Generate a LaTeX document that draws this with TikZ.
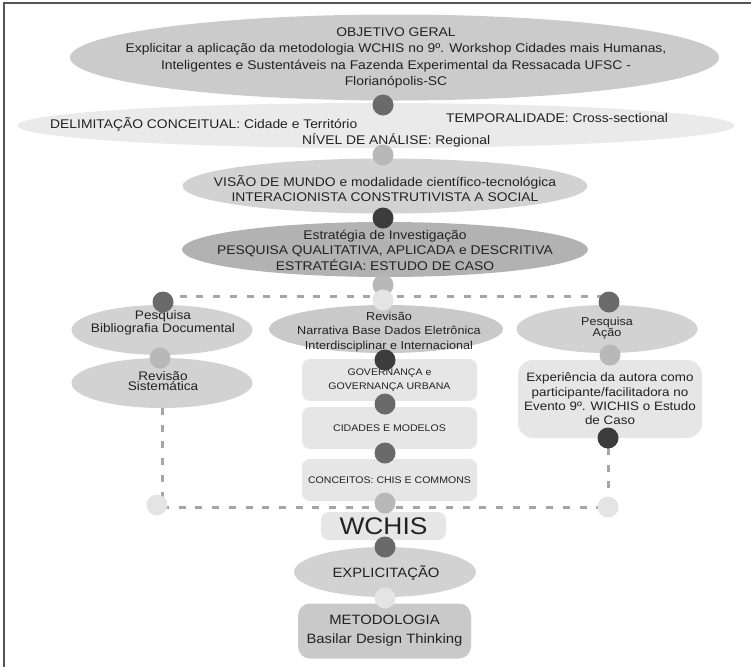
\documentclass[tikz,border=0pt]{standalone}
\usepackage{fontspec}
\setmainfont[FakeStretch=1.1]{Liberation Sans}
\usetikzlibrary{shapes.geometric}
\definecolor{dotdark}{HTML}{3C3C3C}
\definecolor{dotmid}{HTML}{6A6A6A}
\definecolor{dotgray}{HTML}{B8B8B8}
\definecolor{dotlight}{HTML}{E4E4E4}
\definecolor{shadeA}{HTML}{CBCBCB}
\definecolor{shadeB}{HTML}{EAEAEA}
\definecolor{shadeC}{HTML}{D2D2D2}
\definecolor{shadeD}{HTML}{B2B2B2}
\definecolor{shadeE}{HTML}{E6E6E6}
\definecolor{shadeF}{HTML}{C9C9C9}
\definecolor{dashgray}{HTML}{A6A6A6}
\definecolor{framegray}{HTML}{555555}
\definecolor{ink}{HTML}{222222}

\begin{document}
\begin{tikzpicture}[x=1pt, y=-1pt,
	blob/.style={ellipse, inner sep=0pt},
	card/.style={rectangle, rounded corners=8pt, inner sep=0pt, align=center, text=ink},
	dot/.style={circle, minimum size=21pt, inner sep=0pt},
	lbl/.style={align=center, inner sep=0pt, text=ink},
	link/.style={draw=dashgray, line width=3pt, dash pattern=on 7pt off 9.7pt}]
	\useasboundingbox (0,0) rectangle (751,667);
	\draw[framegray, line width=1.5pt] (4,667) -- (4,3) -- (751,3);

	\coordinate (cTL) at (163,296);
	\coordinate (cTR) at (609,296);
	\coordinate (cBL) at (162,507);
	\coordinate (cBR) at (608,507);
	\draw[link] (cTL) -- (cTR);
	\draw[link] (cBL) -- (cBR);
	\draw[link] (162,408) -- (cBL);
	\draw[link] (608,448) -- (cBR);

	\node[blob, fill=shadeA, minimum width=649pt, minimum height=86pt] (obj) at (394.5,57.5) {};
	\node[lbl, font=\fontsize{12.6}{16.3}\selectfont] (objt) at (396,58) {OBJETIVO GERAL\\Explicitar a aplicação da metodologia WCHIS no 9º. Workshop Cidades mais Humanas,\\Inteligentes e Sustentáveis na Fazenda Experimental da Ressacada UFSC -\\Florianópolis-SC};

	\node[blob, fill=shadeB, minimum width=717pt, minimum height=45pt] (deli) at (376,125.5) {};
	\node[lbl, anchor=west, font=\fontsize{12.6}{14}\selectfont] (delit) at (50,124) {DELIMITAÇÃO CONCEITUAL: Cidade e Território};
	\node[lbl, anchor=west, font=\fontsize{12.6}{14}\selectfont] (tempt) at (446,118) {TEMPORALIDADE: Cross-sectional};
	\node[lbl, anchor=west, font=\fontsize{12.6}{14}\selectfont] (nivt) at (302,140) {NÍVEL DE ANÁLISE: Regional};

	\node[blob, fill=shadeC, minimum width=405pt, minimum height=55pt] (vis) at (385,186) {};
	\node[lbl, font=\fontsize{12.6}{15}\selectfont] (vist) at (385,189) {VISÃO DE MUNDO e modalidade científico-tecnológica\\INTERACIONISTA CONSTRUTIVISTA A SOCIAL};

	\node[blob, fill=shadeD, minimum width=406pt, minimum height=55pt] (est) at (385,249.5) {};
	\node[lbl, font=\fontsize{12.6}{15.5}\selectfont] (estt) at (385,250) {Estratégia de Investigação\\PESQUISA QUALITATIVA, APLICADA e DESCRITIVA\\ESTRATÉGIA: ESTUDO DE CASO};

	\node[blob, fill=shadeC, minimum width=181pt, minimum height=50pt] (pbd) at (162,330) {};
	\node[lbl, font=\fontsize{12.4}{8.5}\selectfont] (pbdt) at (163,323) {Pesquisa\\Bibliografia Documental};
	\node[blob, fill=shadeC, minimum width=181pt, minimum height=50pt] (rs) at (162,383) {};
	\node[lbl, font=\fontsize{12.4}{8}\selectfont] (rst) at (163,381) {Revisão\\Sistemática};

	\node[blob, fill=shadeF, minimum width=234pt, minimum height=48pt] (rn) at (386,329) {};
	\node[lbl, font=\fontsize{11.5}{14.5}\selectfont] (rnt) at (389,332) {Revisão\\Narrativa Base Dados Eletrônica\\Interdisciplinar e Internacional};
	\node[card, fill=shadeE, minimum width=175pt, minimum height=42pt, font=\fontsize{9.6}{14}\selectfont] (gov) at (389.5,380) {GOVERNANÇA e\\GOVERNANÇA URBANA};
	\node[card, fill=shadeE, minimum width=175pt, minimum height=42pt, font=\fontsize{9.6}{14}\selectfont] (cid) at (389.5,428) {CIDADES E MODELOS};
	\node[card, fill=shadeE, minimum width=175pt, minimum height=42pt, font=\fontsize{9.6}{14}\selectfont] (con) at (389.5,480) {CONCEITOS: CHIS E COMMONS};

	\node[blob, fill=shadeC, minimum width=181pt, minimum height=48pt] (pa) at (607,329) {};
	\node[lbl, font=\fontsize{11.4}{10.5}\selectfont] (pat) at (607,328) {Pesquisa\\Ação};
	\node[card, fill=shadeE, rounded corners=15pt, minimum width=184pt, minimum height=78pt, font=\fontsize{12.2}{14.3}\selectfont] (exp) at (610,399) {Experiência da autora como\\participante/facilitadora no\\Evento 9º. WICHIS o Estudo\\de Caso};

	\node[card, fill=shadeE, minimum width=125pt, minimum height=28pt, font=\fontsize{24}{24}\selectfont] (wch) at (383.5,526) {WCHIS};
	\node[blob, fill=shadeC, minimum width=182pt, minimum height=50pt] (expl) at (385,572) {};
	\node[lbl, font=\fontsize{13.5}{14}\selectfont] (explt) at (386,573) {EXPLICITAÇÃO};
	\node[card, fill=shadeF, rounded corners=12pt, minimum width=173pt, minimum height=55pt, font=\fontsize{13.5}{19}\selectfont] (met) at (384.5,631) {METODOLOGIA\\Basilar Design Thinking};

	\node[dot, fill=dotmid] (d1) at (383,105) {};
	\node[dot, fill=dotgray] (d2) at (383,155) {};
	\node[dot, fill=dotdark] (d3) at (383,218) {};
	\node[dot, fill=dotgray] (d4) at (383,285) {};
	\node[dot, fill=dotlight] (d5) at (383,300) {};
	\node[dot, fill=dotmid] (dl1) at (163,302) {};
	\node[dot, fill=dotgray] (dl2) at (160,358) {};
	\node[dot, fill=dotlight] (dl3) at (157,505) {};
	\node[dot, fill=dotdark] (dm1) at (385,360) {};
	\node[dot, fill=dotmid] (dm2) at (385,404) {};
	\node[dot, fill=dotmid] (dm3) at (385,453) {};
	\node[dot, fill=dotgray] (dm4) at (385,503) {};
	\node[dot, fill=dotmid] (dr1) at (609,302) {};
	\node[dot, fill=dotgray] (dr2) at (610,355) {};
	\node[dot, fill=dotdark] (dr3) at (608,438) {};
	\node[dot, fill=dotlight] (dr4) at (608,507) {};
	\node[dot, fill=dotmid] (db1) at (385,547) {};
	\node[dot, fill=dotlight] (db2) at (385,598) {};
\end{tikzpicture}
\end{document}
